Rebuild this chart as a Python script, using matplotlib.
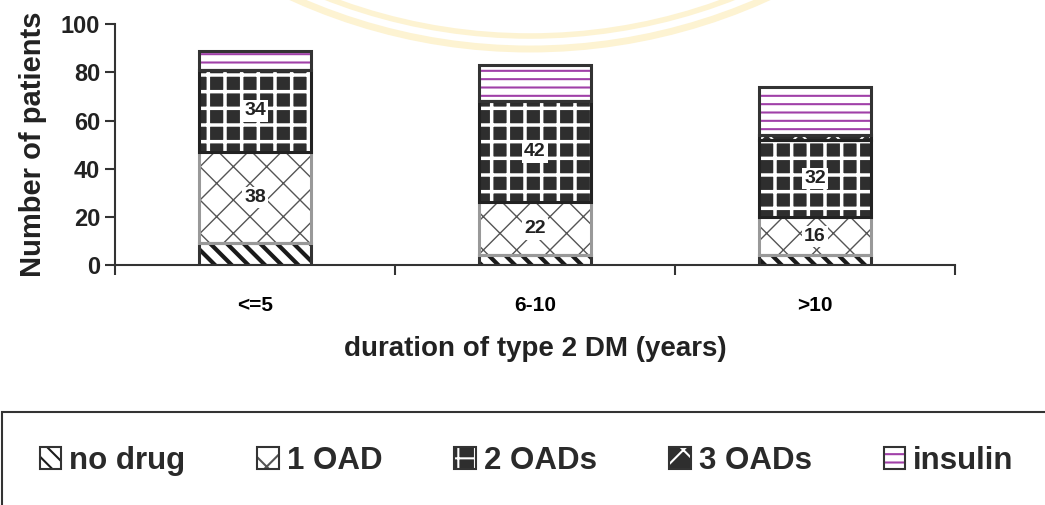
import numpy as np
import matplotlib
matplotlib.use("Agg")
import matplotlib.pyplot as plt
from matplotlib.patches import Rectangle, Arc
from matplotlib.transforms import IdentityTransform

plt.rcParams['font.family'] = ['Liberation Sans', 'DejaVu Sans']
plt.rcParams['font.weight'] = 'bold'

# patients per treatment group, for each diabetes duration band
durations = ['<=5', '6-10', '>10']
no_drug = [9, 4, 4]
one_oad = [38, 22, 16]
two_oads = [34, 42, 32]
three_oads = [0, 0, 2]
insulin = [8, 15, 20]

groups = ['no drug', '1 OAD', '2 OADs', '3 OADs', 'insulin']
series = [no_drug, one_oad, two_oads, three_oads, insulin]
# labelled segments (1 OAD and 2 OADs carry their counts)
labelled = [False, True, True, False, False]

# face colour, hatch, hatch colour, hatch width, outline colour
styles = [
    ('white', '\\\\', '#1a1a1a', 3.0, '#333333'),
    ('white', 'x', '#555555', 1.0, '#999999'),
    ('#2e2e2e', '+', 'white', 2.5, '#222222'),
    ('#2e2e2e', 'x', 'white', 1.5, '#222222'),
    ('white', '--', '#a040a8', 1.5, '#333333'),
]

fig = plt.figure(figsize=(10.45, 5.05), dpi=100)
ax = fig.add_axes([0.110, 0.475, 0.804, 0.477])
ax.set_facecolor('none')

# faint seal in the page background (pixel coordinates)
for r, lw in [(575, 5), (560, 4)]:
    bottom_px = 505 - (49 if r == 575 else 36)
    arc = Arc((530, bottom_px + r), width=2 * r, height=2 * r,
              theta1=235, theta2=305, transform=IdentityTransform(),
              color='#fdf3d2', lw=lw, zorder=-5)
    fig.add_artist(arc)

x = np.arange(len(durations))
width = 0.4
bottom = np.zeros(len(durations))
handles = []
for vals, (fc, hatch, hc, hlw, ec), lab in zip(series, styles, labelled):
    vals = np.array(vals, dtype=float)
    plt.rcParams['hatch.linewidth'] = hlw
    fill = ax.bar(x, vals, width, bottom=bottom, color=fc, hatch=hatch,
                  edgecolor=hc, linewidth=0, zorder=2)
    outline = ax.bar(x, vals, width, bottom=bottom, fill=False, edgecolor=ec,
                     linewidth=2.2, zorder=3)
    key = Rectangle((0, 0), 1, 1, fill=False, edgecolor='#333333', lw=1.5)
    handles.append((fill[0], key))
    if lab:
        for xi, b, v in zip(x, bottom, vals):
            ax.text(xi, b + v / 2, f'{int(v)}', ha='center', va='center',
                    fontsize=14, fontweight='bold', color='#222222', zorder=5,
                    bbox=dict(facecolor='white', edgecolor='none', pad=1.5))
    bottom += vals

ax.set_xlim(-0.5, 2.5)
ax.set_ylim(0, 100)
ax.set_yticks(range(0, 101, 20))
ax.set_xticks([-0.5, 0.5, 1.5, 2.5])
ax.set_xticklabels([])
ax.set_xticks(x, minor=True)
ax.set_xticklabels(durations, minor=True)
ax.tick_params(axis='x', which='minor', length=0, pad=22, labelsize=15)
ax.tick_params(axis='x', which='major', direction='out', length=7, width=1.5,
               color='#333333')
ax.tick_params(axis='y', direction='out', length=7, width=1.5,
               color='#333333', labelsize=17, labelcolor='#222222')
for s in ['top', 'right']:
    ax.spines[s].set_visible(False)
for s in ['left', 'bottom']:
    ax.spines[s].set_color('#333333')
    ax.spines[s].set_linewidth(1.5)

ax.set_ylabel('Number of patients', fontsize=21, fontweight='bold',
              color='#222222', labelpad=10)
ax.set_xlabel('duration of type 2 DM (years)', fontsize=20, fontweight='bold',
              color='#222222', labelpad=15)

# legend panel running off the bottom/right edge
fig.add_artist(Rectangle((0.002, -0.1), 1.1, 1 - 412 / 505 + 0.1,
                         transform=fig.transFigure, fill=False,
                         edgecolor='#333333', lw=1.5, clip_on=False))
fig.legend(handles, groups, ncol=5, loc='center left',
           bbox_to_anchor=(0.011, 1 - 461 / 505), frameon=False,
           prop={'size': 22.5, 'weight': 'bold'}, handlelength=0.7,
           handleheight=0.7, handletextpad=0.25, columnspacing=2.3,
           labelcolor='#2a2a2a')

fig.savefig('out.png', dpi=100)
